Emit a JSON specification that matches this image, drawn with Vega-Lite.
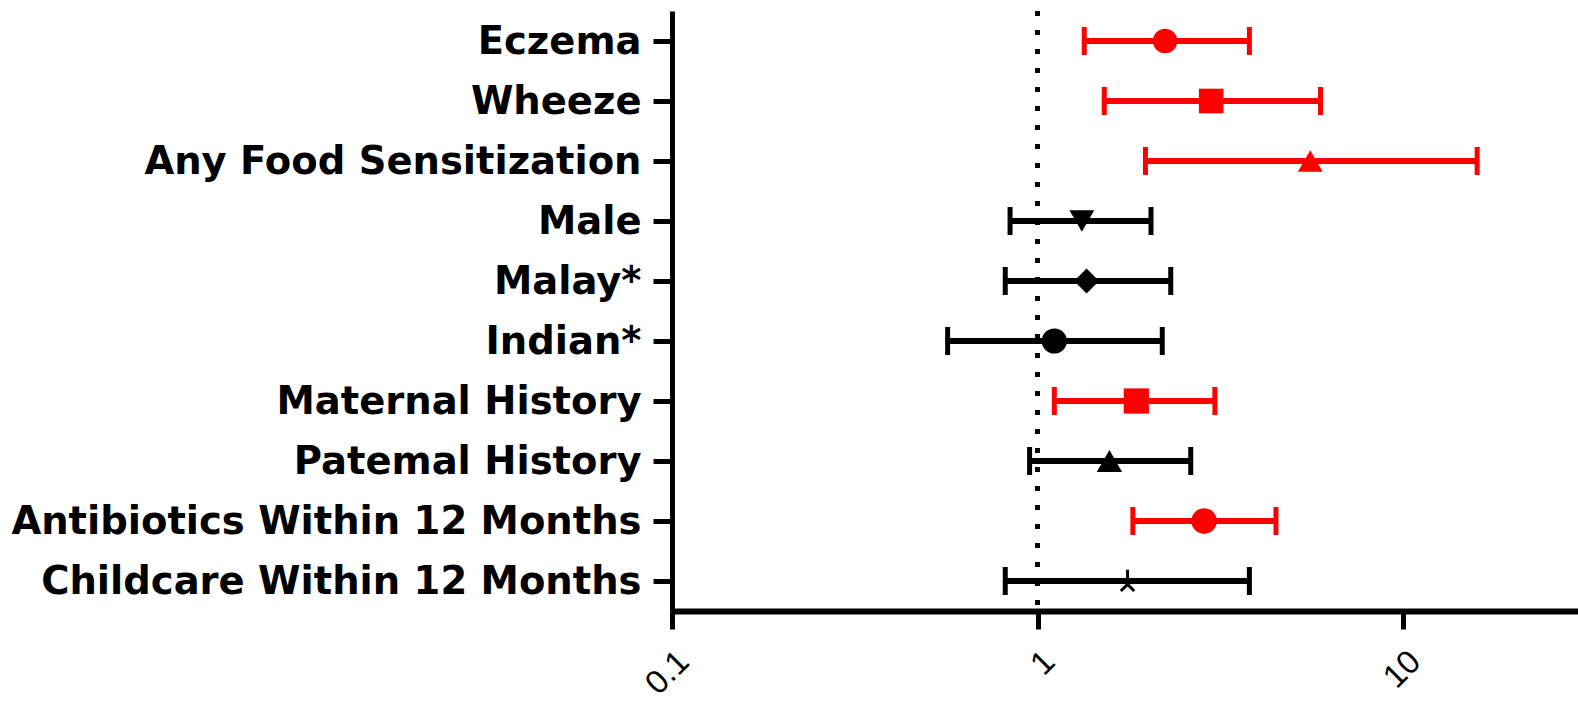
{
  "$schema": "https://vega.github.io/schema/vega-lite/v6.json",
  "autosize": "none",
  "width": 906,
  "height": 600,
  "padding": {"left": 672, "top": 11, "right": 0, "bottom": 92},
  "background": "white",
  "config": {"view": {"stroke": null}},
  "data": {
    "values": [
      {"label": "Eczema", "or": 2.23, "lower": 1.34, "upper": 3.79, "significant": "yes"},
      {"label": "Wheeze", "or": 2.98, "lower": 1.52, "upper": 5.93, "significant": "yes"},
      {"label": "Any Food Sensitization", "or": 5.56, "lower": 1.97, "upper": 15.9, "significant": "yes"},
      {"label": "Male", "or": 1.32, "lower": 0.84, "upper": 2.04, "significant": "no"},
      {"label": "Malay*", "or": 1.36, "lower": 0.815, "upper": 2.31, "significant": "no"},
      {"label": "Indian*", "or": 1.11, "lower": 0.567, "upper": 2.19, "significant": "no"},
      {"label": "Maternal History", "or": 1.86, "lower": 1.11, "upper": 3.05, "significant": "yes"},
      {"label": "Patemal History", "or": 1.57, "lower": 0.95, "upper": 2.62, "significant": "no"},
      {"label": "Antibiotics Within 12 Months", "or": 2.85, "lower": 1.82, "upper": 4.48, "significant": "yes"},
      {"label": "Childcare Within 12 Months", "or": 1.76, "lower": 0.815, "upper": 3.79, "significant": "no"}
    ]
  },
  "encoding": {
    "y": {
      "field": "label",
      "type": "nominal",
      "sort": null,
      "title": null,
      "scale": {"type": "point", "padding": 0.5},
      "axis": {
        "domainWidth": 5,
        "domainColor": "black",
        "tickWidth": 5,
        "tickColor": "black",
        "tickSize": 19,
        "labelPadding": 12,
        "labelFont": "DejaVu Sans",
        "labelFontWeight": "bold",
        "labelFontSize": 38.5,
        "labelColor": "black",
        "labelLimit": 0
      }
    },
    "color": {
      "field": "significant",
      "type": "nominal",
      "scale": {"domain": ["yes", "no"], "range": ["#ff0000", "#000000"]},
      "legend": null
    }
  },
  "layer": [
    {
      "mark": {"type": "rule", "strokeDash": [5, 14], "strokeWidth": 4, "color": "black"},
      "encoding": {
        "x": {"datum": 1, "type": "quantitative"},
        "y": null,
        "color": null
      }
    },
    {
      "mark": {"type": "rule", "strokeWidth": 6, "opacity": 1},
      "encoding": {
        "x": {
          "field": "lower",
          "type": "quantitative",
          "title": null,
          "scale": {"type": "log", "domain": [0.1, 30], "nice": false},
          "axis": {
            "values": [0.1, 1, 10],
            "format": "~g",
            "grid": false,
            "domainWidth": 6,
            "domainColor": "black",
            "tickWidth": 5,
            "tickColor": "black",
            "tickSize": 18,
            "labelAngle": -45,
            "labelPadding": 16,
            "labelFont": "Liberation Sans",
            "labelFontSize": 33,
            "labelColor": "black",
            "labelFlush": false
          }
        },
        "x2": {"field": "upper"}
      }
    },
    {
      "mark": {"type": "tick", "thickness": 5, "size": 28, "orient": "vertical", "opacity": 1},
      "encoding": {"x": {"field": "lower", "type": "quantitative"}}
    },
    {
      "mark": {"type": "tick", "thickness": 5, "size": 28, "orient": "vertical", "opacity": 1},
      "encoding": {"x": {"field": "upper", "type": "quantitative"}}
    },
    {
      "transform": [{"filter": "datum.label !== 'Childcare Within 12 Months'"}],
      "mark": {"type": "point", "filled": true, "opacity": 1},
      "encoding": {
        "x": {"field": "or", "type": "quantitative"},
        "shape": {
          "field": "label",
          "type": "nominal",
          "legend": null,
          "scale": {
            "domain": ["Eczema", "Wheeze", "Any Food Sensitization", "Male", "Malay*", "Indian*", "Maternal History", "Patemal History", "Antibiotics Within 12 Months"],
            "range": ["circle", "square", "triangle-up", "triangle-down", "diamond", "circle", "square", "triangle-up", "circle"]
          }
        },
        "size": {
          "field": "label",
          "type": "nominal",
          "legend": null,
          "scale": {
            "domain": ["Eczema", "Wheeze", "Any Food Sensitization", "Male", "Malay*", "Indian*", "Maternal History", "Patemal History", "Antibiotics Within 12 Months"],
            "range": [600, 650, 750, 650, 700, 729, 800, 900, 560]
          }
        }
      }
    },
    {
      "transform": [{"filter": "datum.label === 'Childcare Within 12 Months'"}],
      "mark": {"type": "point", "filled": false, "strokeWidth": 3, "opacity": 1, "size": 500, "shape": "M0,-1L0,0.3M0,0.3L-0.6,0.9M0,0.3L0.6,0.9"},
      "encoding": {"x": {"field": "or", "type": "quantitative"}}
    }
  ]
}
